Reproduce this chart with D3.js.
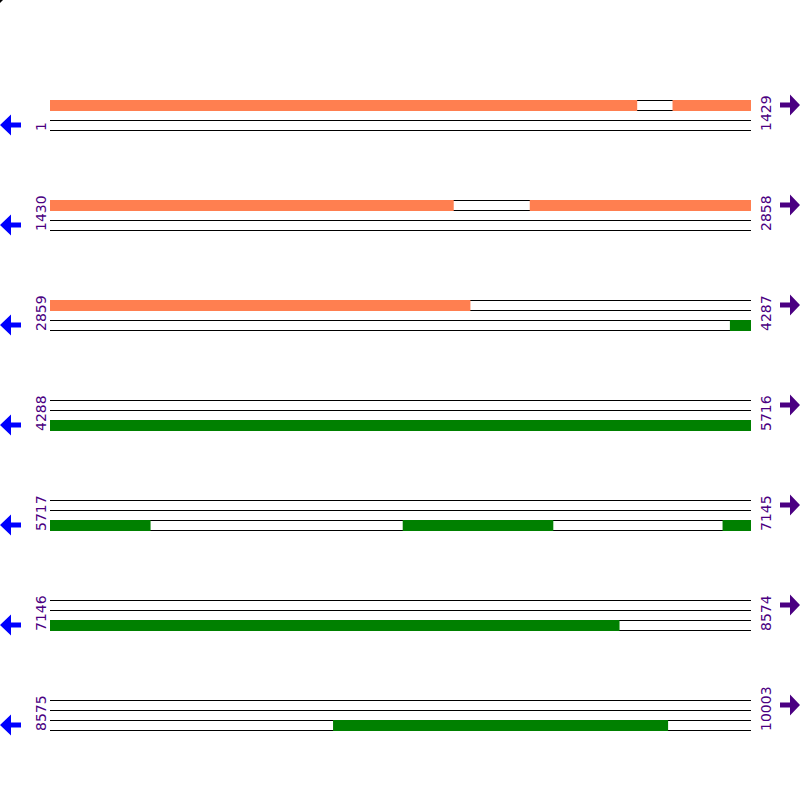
<!DOCTYPE html>
<html>
<head>
<meta charset="utf-8">
<script src="https://cdn.jsdelivr.net/npm/d3@7"></script>
<style>
  body { margin: 0; background: #fff; }
  svg { display: block; }
</style>
</head>
<body>
<div id="chart"></div>
<script>
// sequence and how it is wrapped
const seqLength = 10003
const rowLength = 1429
const rowStarts = [1, 1430, 2859, 4288, 5717, 7146, 8575]
const rowEnds = [1429, 2858, 4287, 5716, 7145, 8574, 10003]

// forward strand features (orange, top track)
const fwdStarts = [1, 1270, 2408]
const fwdEnds = [1197, 2252, 3715]

// reverse strand features (green, bottom track)
const revStarts = [4245, 6436, 7088, 9152]
const revEnds = [5921, 6742, 8306, 9834]

const width = 800, height = 800
const svg = d3.select("#chart")
    .append("svg")
    .attr("width", width)
    .attr("height", height)

const y = d3.scaleLinear()
    .domain([0, rowStarts.length - 1])
    .range([100, 700])

const trackOffsets = [0, 10, 20, 30]
const labelColor = "#4b0082"

svg.append("path")
    .attr("d", "M0,0L3,0L0,3Z")
    .attr("fill", "#000")

const fwd = fwdStarts.map((s, i) => ({ start: s, end: fwdEnds[i] }))
const rev = revStarts.map((s, i) => ({ start: s, end: revEnds[i] }))

rowStarts.forEach((rowStart, i) => {
    const rowEnd = rowEnds[i]
    const top = y(i)
    const x = d3.scaleLinear()
        .domain([rowStart - 1, rowStart - 1 + rowLength])
        .range([50, 751])

    const g = svg.append("g")

    // track lines
    g.selectAll("line")
        .data(trackOffsets)
        .enter().append("line")
        .attr("x1", 50)
        .attr("x2", 751)
        .attr("y1", d => top + d + 0.5)
        .attr("y2", d => top + d + 0.5)
        .attr("stroke", "#000")
        .attr("stroke-width", 1)

    // features clipped to this row
    const clip = arr => arr
        .filter(d => d.end >= rowStart && d.start <= rowEnd)
        .map(d => ({ s: Math.max(d.start, rowStart), e: Math.min(d.end, rowEnd) }))

    g.selectAll("rect.fwd")
        .data(clip(fwd))
        .enter().append("rect")
        .attr("class", "fwd")
        .attr("x", d => x(d.s - 1))
        .attr("width", d => x(d.e) - x(d.s - 1))
        .attr("y", top)
        .attr("height", 11)
        .attr("fill", "coral")

    g.selectAll("rect.rev")
        .data(clip(rev))
        .enter().append("rect")
        .attr("class", "rev")
        .attr("x", d => x(d.s - 1))
        .attr("width", d => x(d.e) - x(d.s - 1))
        .attr("y", top + 20)
        .attr("height", 11)
        .attr("fill", "green")

    // position labels
    g.append("text")
        .attr("transform", `translate(45.5,${top + 31}) rotate(-90)`)
        .attr("font-family", "DejaVu Sans")
        .attr("font-size", 14)
        .attr("fill", labelColor)
        .text(rowStart)

    g.append("text")
        .attr("transform", `translate(771,${top + 31}) rotate(-90)`)
        .attr("font-family", "DejaVu Sans")
        .attr("font-size", 14)
        .attr("fill", labelColor)
        .text(rowEnd)

    // strand arrows
    const ly = top + 25
    g.append("path")
        .attr("d", `M0,${ly}L11,${ly - 10.5}L11,${ly - 2.5}L21,${ly - 2.5}L21,${ly + 2.5}L11,${ly + 2.5}L11,${ly + 10.5}Z`)
        .attr("fill", "blue")

    const ry = top + 5
    g.append("path")
        .attr("d", `M800,${ry}L790,${ry - 10.5}L790,${ry - 2.5}L780,${ry - 2.5}L780,${ry + 2.5}L790,${ry + 2.5}L790,${ry + 10.5}Z`)
        .attr("fill", labelColor)
})
</script>
</body>
</html>
